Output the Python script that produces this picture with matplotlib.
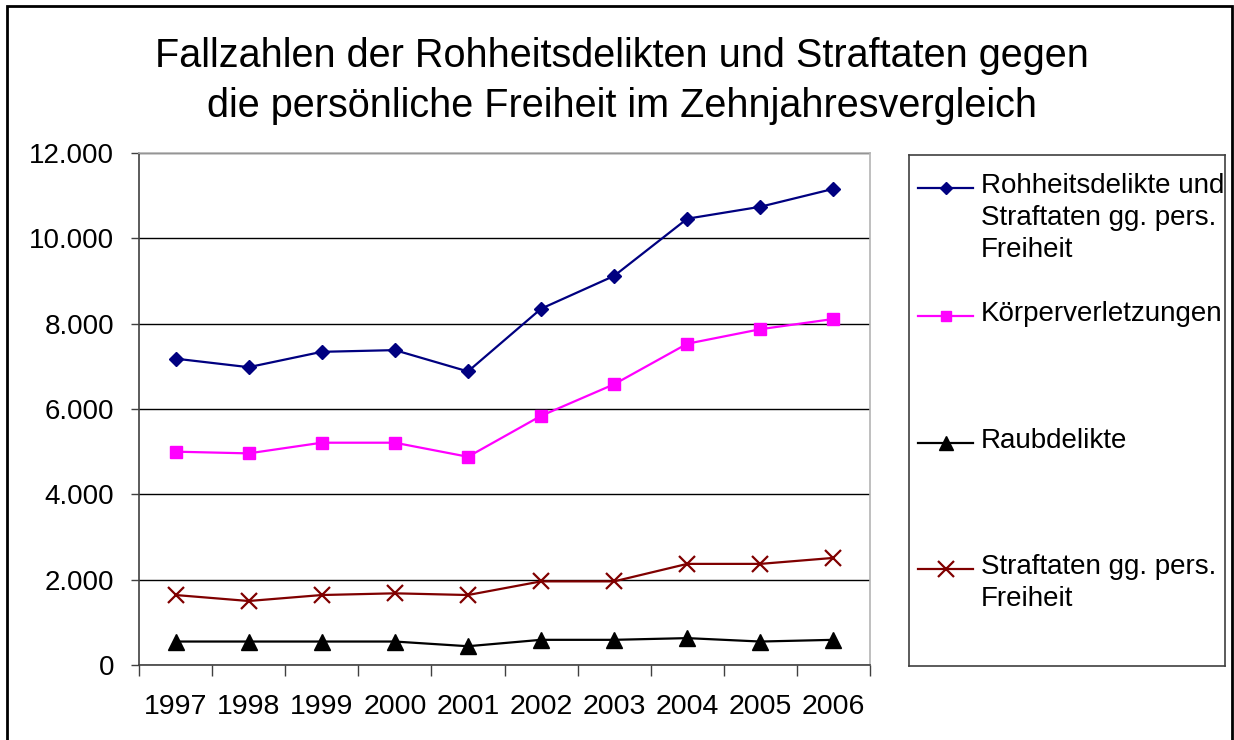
import matplotlib
matplotlib.use("Agg")
import matplotlib.pyplot as plt
from matplotlib.lines import Line2D
from matplotlib.patches import Rectangle
from matplotlib.ticker import FuncFormatter, FixedLocator

plt.rcParams['font.family'] = ['Liberation Sans', 'DejaVu Sans']

years = ['1997', '1998', '1999', '2000', '2001', '2002', '2003', '2004', '2005', '2006']
rohheit = [7180, 6980, 7340, 7380, 6880, 8350, 9120, 10460, 10740, 11160]
koerper = [5000, 4960, 5210, 5210, 4880, 5840, 6580, 7530, 7870, 8110]
raub = [550, 550, 550, 550, 440, 590, 590, 630, 550, 590]
freiheit = [1640, 1500, 1640, 1680, 1640, 1960, 1960, 2370, 2370, 2510]

labels = ['Rohheitsdelikte und\nStraftaten gg. pers.\nFreiheit',
          'Körperverletzungen',
          'Raubdelikte',
          'Straftaten gg. pers.\nFreiheit']
series = [rohheit, koerper, raub, freiheit]
colors = ['#000080', '#FF00FF', '#000000', '#800000']
markers = ['D', 's', '^', 'x']
msizes = [7.5, 8, 11, 12]

title = 'Fallzahlen der Rohheitsdelikten und Straftaten gegen\ndie persönliche Freiheit im Zehnjahresvergleich'

W, H = 1234, 740
fig = plt.figure(figsize=(W / 100, H / 100), dpi=100)

def fx(px):
    return px / W

def fy(py):
    return 1 - py / H

# outer frame
fig.patches.append(Rectangle((fx(7), fy(760)), fx(1232) - fx(7), fy(6) - fy(760),
                             transform=fig.transFigure, fill=False, lw=2,
                             edgecolor='black', clip_on=False))

ax = fig.add_axes([fx(139), fy(665), fx(870) - fx(139), fy(153) - fy(665)])
x = list(range(len(years)))
for vals, c, m, ms in zip(series, colors, markers, msizes):
    ax.plot(x, vals, color=c, marker=m, markersize=ms, lw=1.6,
            markeredgewidth=1.6 if m == 'x' else 1, markeredgecolor=c,
            markerfacecolor=c, clip_on=False, zorder=3)

ax.set_xlim(-0.5, len(years) - 0.5)
ax.set_ylim(0, 12000)
ax.set_yticks(range(0, 12001, 2000))
ax.yaxis.set_major_formatter(FuncFormatter(lambda v, p: f"{int(v):,}".replace(",", ".")))
ax.grid(axis='y', color='black', lw=1)
ax.set_axisbelow(True)

ax.xaxis.set_major_locator(FixedLocator([i - 0.5 for i in range(len(years) + 1)]))
ax.xaxis.set_minor_locator(FixedLocator(x))
ax.set_xticklabels([])
ax.set_xticklabels(years, minor=True)
ax.tick_params(axis='x', which='major', length=8, width=1, color='#404040', direction='out')
ax.tick_params(axis='x', which='minor', length=0, pad=21, labelsize=20.5)
ax.tick_params(axis='y', length=6, width=1, color='#404040', direction='out', pad=12, labelsize=20)

ax.spines['left'].set_color('#404040')
ax.spines['bottom'].set_color('#404040')
ax.spines['top'].set_color('#b4b4b4')
ax.spines['right'].set_color('#b4b4b4')
for s in ax.spines.values():
    s.set_linewidth(1.2)

fig.text(fx(622), fy(81), title, ha='center', va='center', fontsize=28.5, linespacing=1.38)

# legend box
lax = fig.add_axes([fx(909), fy(666), fx(1225) - fx(909), fy(155) - fy(666)])
lax.set_xlim(909, 1225)
lax.set_ylim(666, 155)
lax.set_xticks([])
lax.set_yticks([])
for s in lax.spines.values():
    s.set_color('#404040')
    s.set_linewidth(1.2)
entry_y = [188, 316, 443, 569]
for yy, lab, c, m, ms in zip(entry_y, labels, colors, markers, msizes):
    lax.add_line(Line2D([918, 973], [yy, yy], color=c, lw=1.6))
    lax.add_line(Line2D([945.5], [yy], color=c, marker=m,
                        markersize=ms * 0.85 if m in ('D', 's') else ms * 0.95,
                        markeredgewidth=1.6 if m == 'x' else 1,
                        markerfacecolor=c, markeredgecolor=c))
    lax.text(981, yy - 15, lab, ha='left', va='top', fontsize=20, linespacing=1.29,
             transform=lax.transData)

fig.savefig('out.png', dpi=100)
